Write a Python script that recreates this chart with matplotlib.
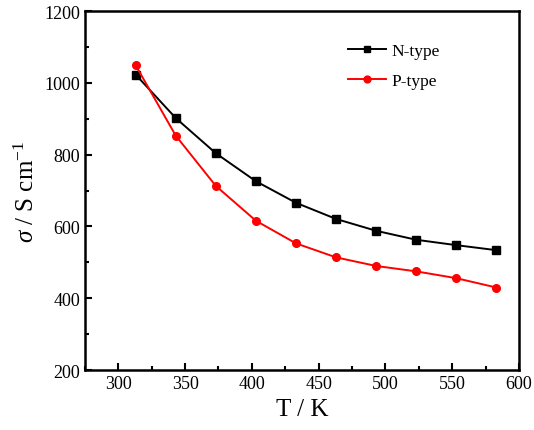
import numpy as np
import matplotlib.pyplot as plt
from matplotlib.ticker import MultipleLocator

plt.rcParams['font.family'] = ['Liberation Serif', 'DejaVu Serif']
plt.rcParams['mathtext.fontset'] = 'custom'
plt.rcParams['mathtext.rm'] = 'Liberation Serif'
plt.rcParams['mathtext.it'] = 'Liberation Serif:italic'

# temperature (K)
temp = [313, 343, 373, 403, 433, 463, 493, 523, 553, 583]
# conductivity (S/cm)
n_type = [1023, 902, 804, 726, 666, 621, 588, 563, 548, 534]
p_type = [1049, 853, 713, 616, 553, 514, 490, 475, 456, 430]

fig = plt.figure(figsize=(5.34, 4.31), dpi=100)
ax = fig.add_axes([0.159, 0.139, 0.813, 0.833])

ax.plot(temp, n_type, color='k', marker='s', markersize=5.5, lw=1.4, label='N-type')
ax.plot(temp, p_type, color='r', marker='o', markersize=5.5, lw=1.4, label='P-type')

ax.set_xlim(275, 600)
ax.set_ylim(200, 1200)
ax.xaxis.set_major_locator(MultipleLocator(50))
ax.xaxis.set_minor_locator(MultipleLocator(25))
ax.yaxis.set_major_locator(MultipleLocator(200))
ax.yaxis.set_minor_locator(MultipleLocator(100))
ax.tick_params(which='both', direction='in', labelsize=13, width=1.5)
ax.tick_params(which='major', length=5)
ax.tick_params(which='minor', length=3)
for s in ax.spines.values():
    s.set_linewidth(1.8)

ax.set_xlabel('T / K', fontsize=18)
ax.set_ylabel(r'$\sigma$ / S cm$^{\mathregular{-1}}$', fontsize=18)

ax.legend(loc='upper left', bbox_to_anchor=(0.57, 0.955), frameon=False, fontsize=12.5,
          handlelength=2.2, handletextpad=0.3, labelspacing=0.8, markerscale=0.9)

fig.savefig('out.png', dpi=100)
